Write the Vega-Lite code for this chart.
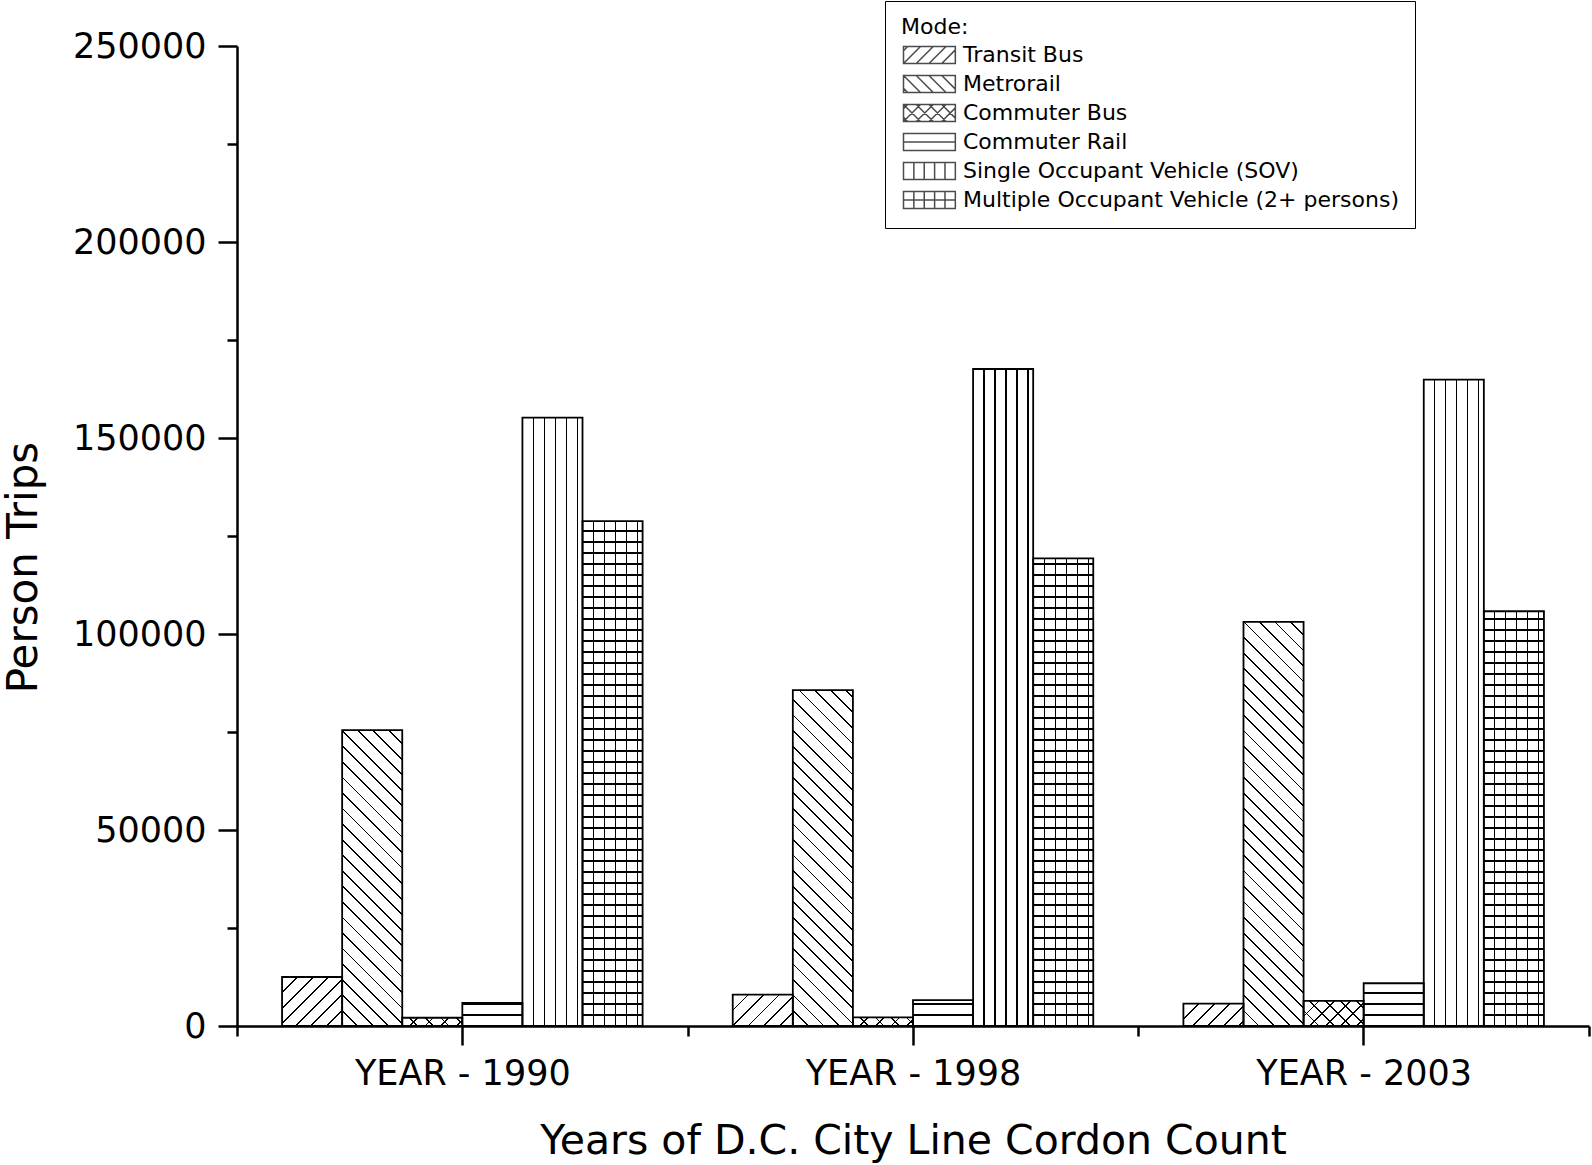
{
  "$schema": "https://vega.github.io/schema/vega-lite/v6.json",
  "width": 1352,
  "height": 980,
  "autosize": {"type": "none"},
  "padding": {"left": 237, "top": 46, "right": 3, "bottom": 139},
  "background": "white",
  "config": {"view": {"stroke": null}, "font": "DejaVu Sans"},
  "params": [
    {
      "name": "hs",
      "value": [
        {"offset":0.0189,"color":"transparent"},{"offset":0.0189,"color":"#000"},{"offset":0.0211,"color":"#000"},{"offset":0.0211,"color":"transparent"},
        {"offset":0.0389,"color":"transparent"},{"offset":0.0389,"color":"#000"},{"offset":0.0411,"color":"#000"},{"offset":0.0411,"color":"transparent"},
        {"offset":0.0589,"color":"transparent"},{"offset":0.0589,"color":"#000"},{"offset":0.0611,"color":"#000"},{"offset":0.0611,"color":"transparent"},
        {"offset":0.0789,"color":"transparent"},{"offset":0.0789,"color":"#000"},{"offset":0.0811,"color":"#000"},{"offset":0.0811,"color":"transparent"},
        {"offset":0.0989,"color":"transparent"},{"offset":0.0989,"color":"#000"},{"offset":0.1011,"color":"#000"},{"offset":0.1011,"color":"transparent"},
        {"offset":0.1189,"color":"transparent"},{"offset":0.1189,"color":"#000"},{"offset":0.1211,"color":"#000"},{"offset":0.1211,"color":"transparent"},
        {"offset":0.1389,"color":"transparent"},{"offset":0.1389,"color":"#000"},{"offset":0.1411,"color":"#000"},{"offset":0.1411,"color":"transparent"},
        {"offset":0.1589,"color":"transparent"},{"offset":0.1589,"color":"#000"},{"offset":0.1611,"color":"#000"},{"offset":0.1611,"color":"transparent"},
        {"offset":0.1789,"color":"transparent"},{"offset":0.1789,"color":"#000"},{"offset":0.1811,"color":"#000"},{"offset":0.1811,"color":"transparent"},
        {"offset":0.1989,"color":"transparent"},{"offset":0.1989,"color":"#000"},{"offset":0.2011,"color":"#000"},{"offset":0.2011,"color":"transparent"},
        {"offset":0.2189,"color":"transparent"},{"offset":0.2189,"color":"#000"},{"offset":0.2211,"color":"#000"},{"offset":0.2211,"color":"transparent"},
        {"offset":0.2389,"color":"transparent"},{"offset":0.2389,"color":"#000"},{"offset":0.2411,"color":"#000"},{"offset":0.2411,"color":"transparent"},
        {"offset":0.2589,"color":"transparent"},{"offset":0.2589,"color":"#000"},{"offset":0.2611,"color":"#000"},{"offset":0.2611,"color":"transparent"},
        {"offset":0.2789,"color":"transparent"},{"offset":0.2789,"color":"#000"},{"offset":0.2811,"color":"#000"},{"offset":0.2811,"color":"transparent"},
        {"offset":0.2989,"color":"transparent"},{"offset":0.2989,"color":"#000"},{"offset":0.3011,"color":"#000"},{"offset":0.3011,"color":"transparent"},
        {"offset":0.3189,"color":"transparent"},{"offset":0.3189,"color":"#000"},{"offset":0.3211,"color":"#000"},{"offset":0.3211,"color":"transparent"},
        {"offset":0.3389,"color":"transparent"},{"offset":0.3389,"color":"#000"},{"offset":0.3411,"color":"#000"},{"offset":0.3411,"color":"transparent"},
        {"offset":0.3589,"color":"transparent"},{"offset":0.3589,"color":"#000"},{"offset":0.3611,"color":"#000"},{"offset":0.3611,"color":"transparent"},
        {"offset":0.3789,"color":"transparent"},{"offset":0.3789,"color":"#000"},{"offset":0.3811,"color":"#000"},{"offset":0.3811,"color":"transparent"},
        {"offset":0.3989,"color":"transparent"},{"offset":0.3989,"color":"#000"},{"offset":0.4011,"color":"#000"},{"offset":0.4011,"color":"transparent"},
        {"offset":0.4189,"color":"transparent"},{"offset":0.4189,"color":"#000"},{"offset":0.4211,"color":"#000"},{"offset":0.4211,"color":"transparent"},
        {"offset":0.4389,"color":"transparent"},{"offset":0.4389,"color":"#000"},{"offset":0.4411,"color":"#000"},{"offset":0.4411,"color":"transparent"},
        {"offset":0.4589,"color":"transparent"},{"offset":0.4589,"color":"#000"},{"offset":0.4611,"color":"#000"},{"offset":0.4611,"color":"transparent"},
        {"offset":0.4789,"color":"transparent"},{"offset":0.4789,"color":"#000"},{"offset":0.4811,"color":"#000"},{"offset":0.4811,"color":"transparent"},
        {"offset":0.4989,"color":"transparent"},{"offset":0.4989,"color":"#000"},{"offset":0.5011,"color":"#000"},{"offset":0.5011,"color":"transparent"},
        {"offset":0.5189,"color":"transparent"},{"offset":0.5189,"color":"#000"},{"offset":0.5211,"color":"#000"},{"offset":0.5211,"color":"transparent"},
        {"offset":0.5389,"color":"transparent"},{"offset":0.5389,"color":"#000"},{"offset":0.5411,"color":"#000"},{"offset":0.5411,"color":"transparent"},
        {"offset":0.5589,"color":"transparent"},{"offset":0.5589,"color":"#000"},{"offset":0.5611,"color":"#000"},{"offset":0.5611,"color":"transparent"},
        {"offset":0.5789,"color":"transparent"},{"offset":0.5789,"color":"#000"},{"offset":0.5811,"color":"#000"},{"offset":0.5811,"color":"transparent"},
        {"offset":0.5989,"color":"transparent"},{"offset":0.5989,"color":"#000"},{"offset":0.6011,"color":"#000"},{"offset":0.6011,"color":"transparent"},
        {"offset":0.6189,"color":"transparent"},{"offset":0.6189,"color":"#000"},{"offset":0.6211,"color":"#000"},{"offset":0.6211,"color":"transparent"},
        {"offset":0.6389,"color":"transparent"},{"offset":0.6389,"color":"#000"},{"offset":0.6411,"color":"#000"},{"offset":0.6411,"color":"transparent"},
        {"offset":0.6589,"color":"transparent"},{"offset":0.6589,"color":"#000"},{"offset":0.6611,"color":"#000"},{"offset":0.6611,"color":"transparent"},
        {"offset":0.6789,"color":"transparent"},{"offset":0.6789,"color":"#000"},{"offset":0.6811,"color":"#000"},{"offset":0.6811,"color":"transparent"},
        {"offset":0.6989,"color":"transparent"},{"offset":0.6989,"color":"#000"},{"offset":0.7011,"color":"#000"},{"offset":0.7011,"color":"transparent"},
        {"offset":0.7189,"color":"transparent"},{"offset":0.7189,"color":"#000"},{"offset":0.7211,"color":"#000"},{"offset":0.7211,"color":"transparent"},
        {"offset":0.7389,"color":"transparent"},{"offset":0.7389,"color":"#000"},{"offset":0.7411,"color":"#000"},{"offset":0.7411,"color":"transparent"},
        {"offset":0.7589,"color":"transparent"},{"offset":0.7589,"color":"#000"},{"offset":0.7611,"color":"#000"},{"offset":0.7611,"color":"transparent"},
        {"offset":0.7789,"color":"transparent"},{"offset":0.7789,"color":"#000"},{"offset":0.7811,"color":"#000"},{"offset":0.7811,"color":"transparent"},
        {"offset":0.7989,"color":"transparent"},{"offset":0.7989,"color":"#000"},{"offset":0.8011,"color":"#000"},{"offset":0.8011,"color":"transparent"},
        {"offset":0.8189,"color":"transparent"},{"offset":0.8189,"color":"#000"},{"offset":0.8211,"color":"#000"},{"offset":0.8211,"color":"transparent"},
        {"offset":0.8389,"color":"transparent"},{"offset":0.8389,"color":"#000"},{"offset":0.8411,"color":"#000"},{"offset":0.8411,"color":"transparent"},
        {"offset":0.8589,"color":"transparent"},{"offset":0.8589,"color":"#000"},{"offset":0.8611,"color":"#000"},{"offset":0.8611,"color":"transparent"},
        {"offset":0.8789,"color":"transparent"},{"offset":0.8789,"color":"#000"},{"offset":0.8811,"color":"#000"},{"offset":0.8811,"color":"transparent"},
        {"offset":0.8989,"color":"transparent"},{"offset":0.8989,"color":"#000"},{"offset":0.9011,"color":"#000"},{"offset":0.9011,"color":"transparent"},
        {"offset":0.9189,"color":"transparent"},{"offset":0.9189,"color":"#000"},{"offset":0.9211,"color":"#000"},{"offset":0.9211,"color":"transparent"},
        {"offset":0.9389,"color":"transparent"},{"offset":0.9389,"color":"#000"},{"offset":0.9411,"color":"#000"},{"offset":0.9411,"color":"transparent"},
        {"offset":0.9589,"color":"transparent"},{"offset":0.9589,"color":"#000"},{"offset":0.9611,"color":"#000"},{"offset":0.9611,"color":"transparent"}
      ]
    }
  ],
  "data": {
    "values": [
      {"year": "YEAR - 1990", "mode": "Transit Bus", "value": 12500},
      {"year": "YEAR - 1990", "mode": "Metrorail", "value": 75500},
      {"year": "YEAR - 1990", "mode": "Commuter Bus", "value": 2100},
      {"year": "YEAR - 1990", "mode": "Commuter Rail", "value": 5900},
      {"year": "YEAR - 1990", "mode": "Single Occupant Vehicle (SOV)", "value": 155200},
      {"year": "YEAR - 1990", "mode": "Multiple Occupant Vehicle (2+ persons)", "value": 128800},
      {"year": "YEAR - 1998", "mode": "Transit Bus", "value": 8000},
      {"year": "YEAR - 1998", "mode": "Metrorail", "value": 85700},
      {"year": "YEAR - 1998", "mode": "Commuter Bus", "value": 2200},
      {"year": "YEAR - 1998", "mode": "Commuter Rail", "value": 6600},
      {"year": "YEAR - 1998", "mode": "Single Occupant Vehicle (SOV)", "value": 167600},
      {"year": "YEAR - 1998", "mode": "Multiple Occupant Vehicle (2+ persons)", "value": 119300},
      {"year": "YEAR - 2003", "mode": "Transit Bus", "value": 5700},
      {"year": "YEAR - 2003", "mode": "Metrorail", "value": 103100},
      {"year": "YEAR - 2003", "mode": "Commuter Bus", "value": 6400},
      {"year": "YEAR - 2003", "mode": "Commuter Rail", "value": 10900},
      {"year": "YEAR - 2003", "mode": "Single Occupant Vehicle (SOV)", "value": 164900},
      {"year": "YEAR - 2003", "mode": "Multiple Occupant Vehicle (2+ persons)", "value": 105800}
    ]
  },
  "layer": [
    {
      "mark": {"type": "point", "filled": true, "fill": "white", "stroke": "black", "strokeWidth": 1.5, "size": 1, "yOffset": 3},
      "encoding": {
        "x": {"field": "year", "type": "nominal", "axis": null,
              "scale": {"domain": ["YEAR - 1990", "YEAR - 1998", "YEAR - 2003"], "paddingInner": 0, "paddingOuter": 0}},
        "xOffset": {"field": "mode", "type": "nominal",
              "scale": {"domain": ["Transit Bus", "Metrorail", "Commuter Bus", "Commuter Rail", "Single Occupant Vehicle (SOV)", "Multiple Occupant Vehicle (2+ persons)"], "paddingInner": 0, "paddingOuter": 0.75}},
        "y": {"field": "value", "type": "quantitative", "axis": null, "stack": null,
              "scale": {"domain": [0, 250000], "nice": false, "zero": true}},
        "shape": {
          "field": "mode", "type": "nominal",
          "scale": {
            "domain": ["Transit Bus", "Metrorail", "Commuter Bus", "Commuter Rail", "Single Occupant Vehicle (SOV)", "Multiple Occupant Vehicle (2+ persons)"],
            "range": [
              "M -1 -1 L 5.1 -1 L 5.1 1 L -1 1 Z M -1 -0.5 L -0.5 -1 M -1 1 L 1 -1 M 0.5 1 L 2.5 -1 M 2 1 L 4 -1 M 3.5 1 L 5.1 -0.6",
              "M -1 -1 L 5.1 -1 L 5.1 1 L -1 1 Z M -1 0.5 L -0.5 1 M -1 -1 L 1 1 M 0.5 -1 L 2.5 1 M 2 -1 L 4 1 M 3.5 -1 L 5.1 0.6",
              "M -1 -1 L 5.1 -1 L 5.1 1 L -1 1 Z M -1 -0.5 L -0.5 -1 M -1 1 L 1 -1 M 0.5 1 L 2.5 -1 M 2 1 L 4 -1 M 3.5 1 L 5.1 -0.6 M -1 0.5 L -0.5 1 M -1 -1 L 1 1 M 0.5 -1 L 2.5 1 M 2 -1 L 4 1 M 3.5 -1 L 5.1 0.6",
              "M -1 -1 L 5.1 -1 L 5.1 1 L -1 1 Z M -1 0 L 5.1 0",
              "M -1 -1 L 5.1 -1 L 5.1 1 L -1 1 Z M 0.22 -1 L 0.22 1 M 1.44 -1 L 1.44 1 M 2.66 -1 L 2.66 1 M 3.88 -1 L 3.88 1",
              "M -1 -1 L 5.1 -1 L 5.1 1 L -1 1 Z M 0.22 -1 L 0.22 1 M 1.44 -1 L 1.44 1 M 2.66 -1 L 2.66 1 M 3.88 -1 L 3.88 1 M -1 0 L 5.1 0"
            ]
          },
          "legend": {
            "title": "Mode:",
            "orient": "none",
            "legendX": 648,
            "legendY": -45,
            "padding": 16,
            "strokeColor": "black",
            "symbolSize": 289,
            "labelFont": "DejaVu Sans",
            "labelFontSize": 22,
            "labelColor": "black",
            "labelOffset": 40,
            "labelLimit": 700,
            "titleFont": "DejaVu Sans",
            "titleFontSize": 22,
            "titleFontWeight": "normal",
            "titleColor": "black",
            "titlePadding": 5,
            "rowPadding": 5
          }
        }
      }
    },
    {
      "mark": {"type": "bar", "fill": "white", "strokeWidth": 0},
      "encoding": {
        "x": {"field": "year", "type": "nominal", "axis": null,
              "scale": {"domain": ["YEAR - 1990", "YEAR - 1998", "YEAR - 2003"], "paddingInner": 0, "paddingOuter": 0}},
        "xOffset": {"field": "mode", "type": "nominal",
              "scale": {"domain": ["Transit Bus", "Metrorail", "Commuter Bus", "Commuter Rail", "Single Occupant Vehicle (SOV)", "Multiple Occupant Vehicle (2+ persons)"], "paddingInner": 0, "paddingOuter": 0.75}},
        "y": {"field": "value", "type": "quantitative", "axis": null, "stack": null,
              "scale": {"domain": [0, 250000], "nice": false, "zero": true}}
      }
    },
    {
      "mark": {
        "type": "bar",
        "strokeWidth": 0,
        "fill": {"expr": "(datum.mode==='Transit Bus'||datum.mode==='Commuter Bus') ? {gradient:'linear',x1:0,y1:0,x2:12.944/(1+pow(datum.value*0.000065237,2)),y2:12.944*datum.value*0.000065237/(1+pow(datum.value*0.000065237,2)),stops:hs} : datum.mode==='Metrorail' ? {gradient:'linear',x1:0,y1:1,x2:12.944/(1+pow(datum.value*0.000065237,2)),y2:1-12.944*datum.value*0.000065237/(1+pow(datum.value*0.000065237,2)),stops:hs} : datum.mode==='Commuter Rail' ? {gradient:'linear',x1:0,y1:1,x2:0,y2:1-140306/datum.value,stops:hs} : {gradient:'linear',x1:0,y1:0,x2:9.1531,y2:0,stops:hs}"}
      },
      "encoding": {
        "x": {"field": "year", "type": "nominal",
              "scale": {"domain": ["YEAR - 1990", "YEAR - 1998", "YEAR - 2003"], "paddingInner": 0, "paddingOuter": 0},
              "axis": {
                "orient": "bottom",
                "title": "Years of D.C. City Line Cordon Count",
                "titleFont": "DejaVu Sans", "titleFontSize": 41, "titleFontWeight": "normal", "titleColor": "black",
                "titleBaseline": "alphabetic", "titleY": 127,
                "labelFont": "DejaVu Sans", "labelFontSize": 35, "labelColor": "black", "labelAngle": 0,
                "labelBaseline": "alphabetic", "labelPadding": 48, "labelLimit": 500,
                "tickBand": "extent", "tickSize": 10, "tickWidth": 2.5, "tickColor": "black",
                "domainColor": "black", "domainWidth": 2.5, "grid": false
              }},
        "xOffset": {"field": "mode", "type": "nominal",
              "scale": {"domain": ["Transit Bus", "Metrorail", "Commuter Bus", "Commuter Rail", "Single Occupant Vehicle (SOV)", "Multiple Occupant Vehicle (2+ persons)"], "paddingInner": 0, "paddingOuter": 0.75}},
        "y": {"field": "value", "type": "quantitative", "stack": null,
              "scale": {"domain": [0, 250000], "nice": false, "zero": true},
              "axis": {
                "orient": "left",
                "values": [0, 50000, 100000, 150000, 200000, 250000],
                "format": "d",
                "title": "Person Trips",
                "titleFont": "DejaVu Sans", "titleFontSize": 42, "titleFontWeight": "normal", "titleColor": "black",
                "titleBaseline": "alphabetic", "titleX": -201, "titleY": 521,
                "labelFont": "DejaVu Sans", "labelFontSize": 35, "labelColor": "black", "labelPadding": 12,
                "tickSize": 19, "tickWidth": 2.5, "tickColor": "black",
                "domainColor": "black", "domainWidth": 2.5, "grid": false
              }}
      }
    },
    {
      "mark": {
        "type": "bar",
        "stroke": "black",
        "strokeWidth": 1.8,
        "fill": {"expr": "datum.mode==='Commuter Bus' ? {gradient:'linear',x1:0,y1:1,x2:12.944/(1+pow(datum.value*0.000065237,2)),y2:1-12.944*datum.value*0.000065237/(1+pow(datum.value*0.000065237,2)),stops:hs} : datum.mode==='Multiple Occupant Vehicle (2+ persons)' ? {gradient:'linear',x1:0,y1:1,x2:0,y2:1-140306/datum.value,stops:hs} : 'transparent'"}
      },
      "encoding": {
        "x": {"field": "year", "type": "nominal",
              "scale": {"domain": ["YEAR - 1990", "YEAR - 1998", "YEAR - 2003"], "paddingInner": 0, "paddingOuter": 0},
              "axis": {
                "orient": "bottom", "title": null, "labels": false, "domain": false,
                "bandPosition": 0.5, "tickSize": 19, "tickWidth": 2.5, "tickColor": "black", "grid": false
              }},
        "xOffset": {"field": "mode", "type": "nominal",
              "scale": {"domain": ["Transit Bus", "Metrorail", "Commuter Bus", "Commuter Rail", "Single Occupant Vehicle (SOV)", "Multiple Occupant Vehicle (2+ persons)"], "paddingInner": 0, "paddingOuter": 0.75}},
        "y": {"field": "value", "type": "quantitative", "stack": null,
              "scale": {"domain": [0, 250000], "nice": false, "zero": true},
              "axis": {
                "orient": "left", "title": null, "labels": false, "domain": false,
                "values": [25000, 75000, 125000, 175000, 225000],
                "tickSize": 10, "tickWidth": 2.5, "tickColor": "black", "grid": false
              }}
      }
    }
  ],
  "resolve": {"axis": {"x": "independent", "y": "independent"}}
}
